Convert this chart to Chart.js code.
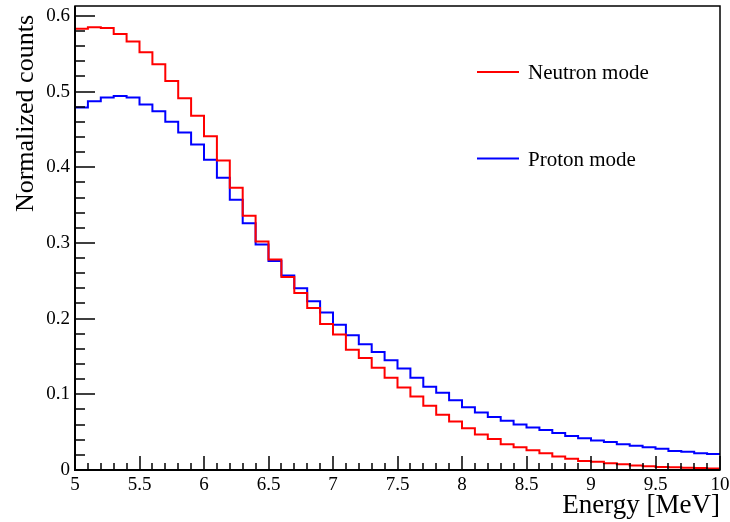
<!DOCTYPE html>
<html>
<head>
<meta charset="utf-8">
<script src="https://cdn.jsdelivr.net/npm/chart.js@4.4.0/dist/chart.umd.min.js"></script>
<style>
  body { margin: 0; background: #fff; }
  canvas { display: block; }
</style>
</head>
<body>
<canvas id="myChart" width="730" height="522"></canvas>
<script>
// binning of the histograms (MeV)
const binLow = 5;
const binWidth = 0.1;

// bin contents, one per 0.1 MeV bin from 5.0 to 10.0
const neutronMode = [
  0.583, 0.585, 0.584, 0.576, 0.566, 0.552, 0.536, 0.514, 0.491, 0.468,
  0.441, 0.409, 0.373, 0.336, 0.302, 0.278, 0.255, 0.234, 0.214, 0.193,
  0.179, 0.159, 0.148, 0.135, 0.122, 0.109, 0.097, 0.085, 0.073, 0.064,
  0.055, 0.047, 0.041, 0.034, 0.030, 0.026, 0.022, 0.018, 0.015, 0.012,
  0.011, 0.009, 0.0075, 0.006, 0.005, 0.004, 0.0035, 0.003, 0.0025, 0.002
];
const protonMode = [
  0.479, 0.487, 0.492, 0.494, 0.492, 0.483, 0.474, 0.460, 0.446, 0.430,
  0.410, 0.386, 0.357, 0.326, 0.298, 0.276, 0.257, 0.240, 0.223, 0.208,
  0.192, 0.178, 0.166, 0.156, 0.145, 0.134, 0.122, 0.110, 0.102, 0.092,
  0.083, 0.076, 0.070, 0.065, 0.060, 0.056, 0.053, 0.049, 0.045, 0.042,
  0.039, 0.037, 0.034, 0.032, 0.030, 0.028, 0.025, 0.024, 0.022, 0.021
];

const xTicks = [5, 5.5, 6, 6.5, 7, 7.5, 8, 8.5, 9, 9.5, 10];
const yTicks = [0, 0.1, 0.2, 0.3, 0.4, 0.5, 0.6];
const xTitle = "Energy [MeV]";
const yTitle = "Normalized counts";

const serif = "'Liberation Serif', 'DejaVu Serif', serif";

// histogram -> step points at the left bin edges, closed at the upper edge
function toSteps(vals) {
  const pts = vals.map((v, i) => ({ x: binLow + i * binWidth, y: v }));
  pts.push({ x: binLow + vals.length * binWidth, y: vals[vals.length - 1] });
  return pts;
}

// ROOT-like frame, inward ticks, axis titles and legend
const rootStyle = {
  id: "rootStyle",
  afterDraw(chart) {
    const ctx = chart.ctx;
    const a = chart.chartArea;
    const xs = chart.scales.x;
    const ys = chart.scales.y;
    ctx.save();
    ctx.strokeStyle = "#000";
    ctx.lineWidth = 1.5;
    ctx.strokeRect(a.left, a.top, a.right - a.left, a.bottom - a.top);

    ctx.lineWidth = 2;
    ctx.beginPath();
    ctx.moveTo(a.left, a.top);
    ctx.lineTo(a.left, a.bottom);
    ctx.lineTo(a.right, a.bottom);
    ctx.stroke();

    // x ticks
    ctx.lineWidth = 1.5;
    ctx.beginPath();
    for (let k = 0; k <= 50; k++) {
      const v = 5 + k * 0.1;
      const px = Math.round(xs.getPixelForValue(v));
      const len = k % 5 === 0 ? 14 : 7;
      ctx.moveTo(px, a.bottom);
      ctx.lineTo(px, a.bottom - len);
    }
    // y ticks
    for (let k = 0; k * 0.02 <= ys.max + 1e-9; k++) {
      const py = Math.round(ys.getPixelForValue(k * 0.02));
      const len = k % 5 === 0 ? 20 : 10;
      ctx.moveTo(a.left, py);
      ctx.lineTo(a.left + len, py);
    }
    ctx.stroke();

    // axis titles
    ctx.fillStyle = "#000";
    ctx.font = "27px " + serif;
    ctx.textAlign = "right";
    ctx.textBaseline = "alphabetic";
    ctx.fillText(xTitle, a.right, 513);

    ctx.save();
    ctx.translate(33, a.top + 9);
    ctx.rotate(-Math.PI / 2);
    ctx.font = "26px " + serif;
    ctx.textAlign = "right";
    ctx.fillText(yTitle, 0, 0);
    ctx.restore();

    // legend
    const legendY = [72, 158.5];
    ctx.font = "21px " + serif;
    ctx.textAlign = "left";
    chart.data.datasets.forEach((ds, i) => {
      ctx.strokeStyle = ds.borderColor;
      ctx.lineWidth = 2;
      ctx.beginPath();
      ctx.moveTo(477, legendY[i]);
      ctx.lineTo(519, legendY[i]);
      ctx.stroke();
      ctx.fillText(ds.label, 528, legendY[i] + 7);
    });
    ctx.restore();
  }
};

new Chart("myChart", {
  type: "line",
  data: {
    datasets: [
      {
        label: "Neutron mode",
        data: toSteps(neutronMode),
        borderColor: "#ff0000",
        borderWidth: 2,
        stepped: "before",
        pointRadius: 0,
        fill: false
      },
      {
        label: "Proton mode",
        data: toSteps(protonMode),
        borderColor: "#0000ff",
        borderWidth: 2,
        stepped: "before",
        pointRadius: 0,
        fill: false
      }
    ]
  },
  options: {
    responsive: false,
    animation: false,
    devicePixelRatio: 1,
    layout: { padding: { left: 0, right: 10, top: 6, bottom: 0 } },
    plugins: {
      legend: { display: false },
      tooltip: { enabled: false }
    },
    scales: {
      x: {
        type: "linear",
        min: 5,
        max: 10,
        grid: { display: false, drawTicks: false },
        border: { display: false },
        afterBuildTicks: s => { s.ticks = xTicks.map(v => ({ value: v })); },
        afterFit: s => {
          s.height = 52;
          s.paddingLeft = 0;
          s.paddingRight = 0;
        },
        ticks: {
          padding: 4,
          color: "#000",
          maxRotation: 0,
          autoSkip: false,
          font: { family: serif, size: 19 },
          callback: v => String(v)
        }
      },
      y: {
        type: "linear",
        min: 0,
        max: 0.613,
        grid: { display: false, drawTicks: false },
        border: { display: false },
        afterBuildTicks: s => { s.ticks = yTicks.map(v => ({ value: v })); },
        afterFit: s => {
          s.width = 75;
          s.paddingTop = 0;
          s.paddingBottom = 0;
        },
        ticks: {
          padding: 5,
          color: "#000",
          autoSkip: false,
          font: { family: serif, size: 19 },
          callback: v => String(v)
        }
      }
    }
  },
  plugins: [rootStyle]
});
</script>
</body>
</html>
